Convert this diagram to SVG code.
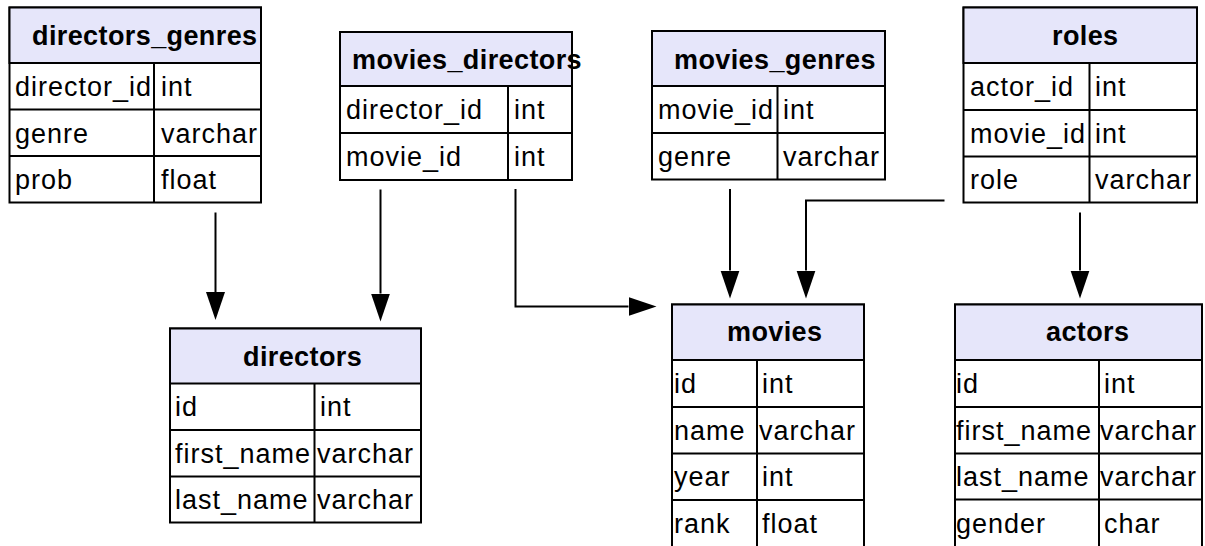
<svg xmlns="http://www.w3.org/2000/svg" width="1205" height="546" viewBox="0 0 1205 546">
  <style>
    .frame { fill: #ffffff; stroke: #000000; stroke-width: 2; }
    .hdr { fill: #E6E6FA; stroke: #000000; stroke-width: 2; }
    .grid { stroke: #000000; stroke-width: 2; fill: none; }
    .title { font-family: "Liberation Sans", Arial, sans-serif; font-weight: bold; font-size: 27px; letter-spacing: 0.4px; fill: #000000; }
    .cell { font-family: "Liberation Sans", Arial, sans-serif; font-size: 27px; letter-spacing: 1px; fill: #000000; }
    .conn { fill: none; stroke: #000000; stroke-width: 2; }
  </style>
  <defs>
    <marker id="arrow" markerUnits="userSpaceOnUse" markerWidth="30" markerHeight="22" refX="0" refY="9.5" orient="auto">
      <path d="M0,0 L28,9.5 L0,19 Z" fill="#000000"/>
    </marker>
  </defs>
  <rect x="0" y="0" width="1205" height="546" fill="#ffffff"/>

  <!-- table: directors_genres -->
  <g id="directors_genres">
    <rect class="frame" x="9.5" y="7.5" width="251.5" height="195"/>
    <rect class="hdr" x="9.5" y="7.5" width="251.5" height="55.5"/>
    <path class="grid" d="M9.5,109.5 H261 M9.5,156 H261 M154,63 V202.5"/>
    <text class="title" x="32" y="45">directors_genres</text>
    <text class="cell" x="15" y="96">director_id</text>
    <text class="cell" x="161" y="96">int</text>
    <text class="cell" x="15" y="142.5">genre</text>
    <text class="cell" x="161" y="142.5">varchar</text>
    <text class="cell" x="15" y="189">prob</text>
    <text class="cell" x="161" y="189">float</text>
  </g>

  <!-- table: movies_directors -->
  <g id="movies_directors">
    <rect class="frame" x="340" y="32" width="232" height="148"/>
    <rect class="hdr" x="340" y="32" width="232" height="54"/>
    <path class="grid" d="M340,133 H572 M508,86 V180"/>
    <text class="title" x="352" y="69">movies_directors</text>
    <text class="cell" x="346" y="119">director_id</text>
    <text class="cell" x="514" y="119">int</text>
    <text class="cell" x="346" y="166">movie_id</text>
    <text class="cell" x="514" y="166">int</text>
  </g>

  <!-- table: movies_genres -->
  <g id="movies_genres">
    <rect class="frame" x="652" y="31" width="233" height="148.5"/>
    <rect class="hdr" x="652" y="31" width="233" height="55"/>
    <path class="grid" d="M652,133 H885 M777.5,86 V179.5"/>
    <text class="title" x="674" y="69">movies_genres</text>
    <text class="cell" x="658" y="119">movie_id</text>
    <text class="cell" x="783" y="119">int</text>
    <text class="cell" x="658" y="166">genre</text>
    <text class="cell" x="783" y="166">varchar</text>
  </g>

  <!-- table: roles -->
  <g id="roles">
    <rect class="frame" x="963.5" y="7.5" width="233.5" height="195"/>
    <rect class="hdr" x="963.5" y="7.5" width="233.5" height="55.5"/>
    <path class="grid" d="M963.5,110 H1197 M963.5,156.5 H1197 M1089.5,63 V202.5"/>
    <text class="title" x="1052" y="45">roles</text>
    <text class="cell" x="970" y="96">actor_id</text>
    <text class="cell" x="1095" y="96">int</text>
    <text class="cell" x="970" y="142.5">movie_id</text>
    <text class="cell" x="1095" y="142.5">int</text>
    <text class="cell" x="970" y="189">role</text>
    <text class="cell" x="1095" y="189">varchar</text>
  </g>

  <!-- table: directors -->
  <g id="directors">
    <rect class="frame" x="170" y="328.5" width="251" height="194"/>
    <rect class="hdr" x="170" y="328.5" width="251" height="55"/>
    <path class="grid" d="M170,430 H421 M170,476.5 H421 M314.5,383.5 V522.5"/>
    <text class="title" x="243" y="366">directors</text>
    <text class="cell" x="175" y="416">id</text>
    <text class="cell" x="320" y="416">int</text>
    <text class="cell" x="175" y="462.5">first_name</text>
    <text class="cell" x="317" y="462.5">varchar</text>
    <text class="cell" x="175" y="509">last_name</text>
    <text class="cell" x="317" y="509">varchar</text>
  </g>

  <!-- table: movies -->
  <g id="movies">
    <rect class="frame" x="672" y="304.5" width="192" height="245"/>
    <rect class="hdr" x="672" y="304.5" width="192" height="55.5"/>
    <path class="grid" d="M672,407 H864 M672,453.5 H864 M672,500 H864 M757,360 V549.5"/>
    <text class="title" x="727" y="341">movies</text>
    <text class="cell" x="674" y="393">id</text>
    <text class="cell" x="762" y="393">int</text>
    <text class="cell" x="674" y="439.5">name</text>
    <text class="cell" x="759" y="439.5">varchar</text>
    <text class="cell" x="674" y="486">year</text>
    <text class="cell" x="762" y="486">int</text>
    <text class="cell" x="674" y="532.5">rank</text>
    <text class="cell" x="762" y="532.5">float</text>
  </g>

  <!-- table: actors -->
  <g id="actors">
    <rect class="frame" x="955" y="304.5" width="247" height="245"/>
    <rect class="hdr" x="955" y="304.5" width="247" height="55.5"/>
    <path class="grid" d="M955,407 H1202 M955,453.5 H1202 M955,499.5 H1202 M1099,360 V549.5"/>
    <text class="title" x="1046" y="341">actors</text>
    <text class="cell" x="956" y="393">id</text>
    <text class="cell" x="1104" y="393">int</text>
    <text class="cell" x="956" y="439.5">first_name</text>
    <text class="cell" x="1100" y="439.5">varchar</text>
    <text class="cell" x="956" y="486">last_name</text>
    <text class="cell" x="1100" y="486">varchar</text>
    <text class="cell" x="956" y="532.5">gender</text>
    <text class="cell" x="1104" y="532.5">char</text>
  </g>

  <!-- foreign-key connectors -->
  <g id="connectors">
    <path class="conn" marker-end="url(#arrow)" d="M215.5,212.5 V292"/>
    <path class="conn" marker-end="url(#arrow)" d="M380.5,189.5 V293.5"/>
    <path class="conn" marker-end="url(#arrow)" d="M515.5,189 V306.5 H628.5"/>
    <path class="conn" marker-end="url(#arrow)" d="M730,189 V270.5"/>
    <path class="conn" marker-end="url(#arrow)" d="M944.5,200.5 H806 V270.5"/>
    <path class="conn" marker-end="url(#arrow)" d="M1080,212.5 V270.5"/>
  </g>
</svg>
